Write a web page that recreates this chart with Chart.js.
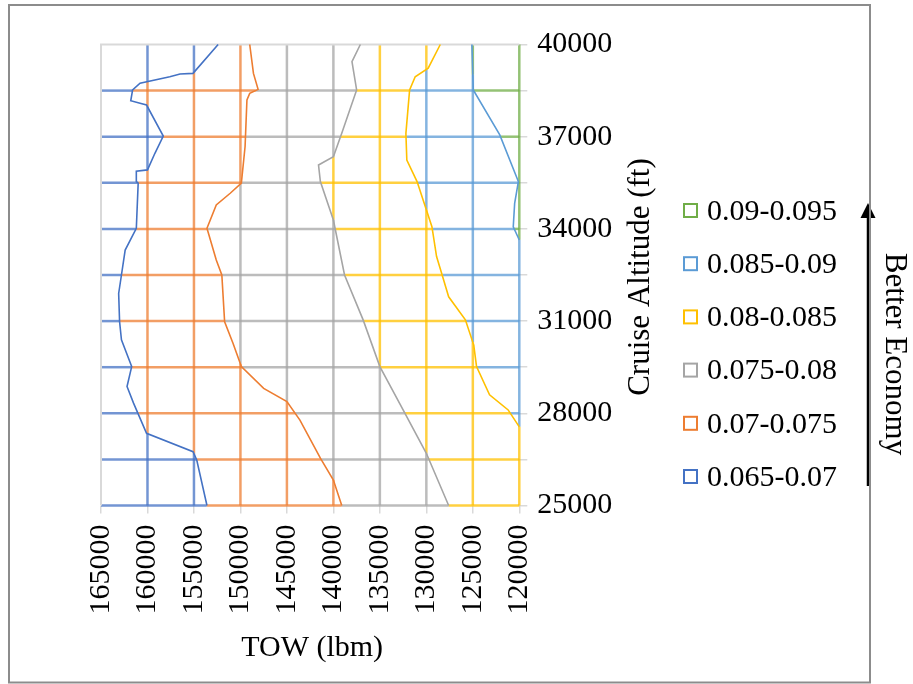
<!DOCTYPE html>
<html>
<head>
<meta charset="utf-8">
<script src="https://cdn.jsdelivr.net/npm/chart.js@4.4.1/dist/chart.umd.min.js"></script>
<style>
  html, body { margin: 0; padding: 0; background: #fff; }
  canvas { display: block; }
</style>
</head>
<body>
<canvas id="chart" width="913" height="684"></canvas>
<script>
// Economy bands, lowest first
const bandLabels = ['0.065-0.07', '0.07-0.075', '0.075-0.08', '0.08-0.085', '0.085-0.09', '0.09-0.095'];
const bandColors = ['#4472C4', '#ED7D31', '#A5A5A5', '#FFC000', '#5B9BD5', '#70AD47'];

// Axis ticks
const towTicks = [165000, 160000, 155000, 150000, 145000, 140000, 135000, 130000, 125000, 120000];
const altGrid = [25000, 26500, 28000, 29500, 31000, 32500, 34000, 35500, 37000, 38500, 40000];
const altLabels = [25000, 28000, 31000, 34000, 37000, 40000];

// Contour lines separating the bands: TOW (lbm) along cruise altitude (ft)
const alt070 = [40000, 39060, 39040, 38950, 38740, 38520, 38170, 38090, 38030, 37020, 36460, 35920, 35880, 35540, 35490, 34020, 33310, 32500, 31900, 30980, 30390, 29520, 28870, 28330, 27350, 26750, 26480, 25000];
const tow070 = [152400, 155100, 156500, 157600, 160800, 161600, 161800, 160800, 160100, 158300, 159200, 160000, 161200, 161200, 161000, 161200, 162400, 162800, 163100, 163000, 162800, 161700, 162200, 161500, 160100, 155100, 154700, 153600];

const alt075 = [40000, 39060, 38540, 38410, 38200, 36680, 35490, 35160, 34780, 34020, 32990, 32500, 30980, 30280, 29520, 28810, 28380, 27780, 26540, 25830, 25000];
const tow075 = [149000, 148600, 148100, 149000, 149300, 149500, 149900, 151100, 152600, 153600, 152600, 152000, 151700, 150800, 149900, 147500, 145000, 143600, 141400, 140000, 139100];

const alt080 = [40000, 39440, 38520, 37110, 36350, 36080, 35540, 34290, 32500, 31040, 29520, 28110, 26700, 25000];
const tow080 = [137100, 138000, 137500, 139100, 140000, 141600, 141400, 140000, 138800, 136800, 135000, 132500, 130000, 127600];

const alt085 = [40000, 39230, 38950, 38520, 37110, 36240, 35540, 34620, 34070, 33100, 32500, 31790, 31040, 30220, 29520, 28600, 28110, 27560];
const tow085 = [128500, 129800, 131200, 131800, 132200, 132100, 131000, 130000, 129400, 128900, 128300, 127600, 125800, 124900, 124600, 123200, 121200, 120000];

const alt090 = [40000, 38520, 37060, 35540, 34830, 34070, 33640];
const tow090 = [125100, 124950, 122100, 120100, 120500, 120650, 120000];

const contours = [
  { level: '0.07', tow: tow070, alt: alt070 },
  { level: '0.075', tow: tow075, alt: alt075 },
  { level: '0.08', tow: tow080, alt: alt080 },
  { level: '0.085', tow: tow085, alt: alt085 },
  { level: '0.09', tow: tow090, alt: alt090 }
];

// TOW of a contour at a given altitude; -Infinity where the contour has left the plot
function towOnContour(c, a) {
  const A = c.alt, T = c.tow;
  for (let i = 0; i < A.length - 1; i++) {
    const a0 = A[i], a1 = A[i + 1];
    const lo = Math.min(a0, a1), hi = Math.max(a0, a1);
    if (a >= lo - 1e-6 && a <= hi + 1e-6) {
      if (a1 === a0) return Math.max(T[i], T[i + 1]);
      const f = (a - a0) / (a1 - a0);
      return T[i] + f * (T[i + 1] - T[i]);
    }
  }
  return -Infinity;
}

// Band index of a (TOW, altitude) point: how many contours lie at heavier TOW
function bandAt(t, a) {
  let b = 0;
  for (const c of contours) if (towOnContour(c, a) > t) b++;
  return b;
}

const serif = "'Liberation Serif', 'Times New Roman', serif";
Chart.defaults.font.family = serif;
Chart.defaults.color = '#000';

// Wireframe mesh: every grid line coloured by the band it runs through
const meshPlugin = {
  id: 'mesh',
  beforeDatasetsDraw(chart) {
    const { ctx, chartArea: ca, scales } = chart;
    const xs = scales.x, ys = scales.y;
    const step = 0.5;
    ctx.save();
    ctx.lineWidth = 2.5;
    ctx.globalAlpha = 0.75;
    ctx.lineCap = 'butt';
    const seg = (x0, y0, x1, y1, b) => {
      ctx.strokeStyle = bandColors[b];
      ctx.beginPath();
      ctx.moveTo(x0, y0);
      ctx.lineTo(x1, y1);
      ctx.stroke();
    };
    const topAlt = altGrid[altGrid.length - 1];
    altGrid.forEach(a => {
      if (a === topAlt) return;
      const py = ys.getPixelForValue(a);
      let start = ca.left;
      let cur = bandAt(xs.getValueForPixel(ca.left), a);
      for (let px = ca.left + step; px <= ca.right + 1e-6; px += step) {
        const b = bandAt(xs.getValueForPixel(px), a);
        if (b !== cur) {
          const m = px - step / 2;
          seg(start, py, m, py, cur);
          start = m; cur = b;
        }
      }
      seg(start, py, ca.right, py, cur);
    });
    const leftTow = towTicks[0];
    towTicks.forEach(t => {
      if (t === leftTow) return;
      const px = xs.getPixelForValue(t);
      let start = ca.top;
      let cur = bandAt(t, ys.getValueForPixel(ca.top));
      for (let py = ca.top + step; py <= ca.bottom + 1e-6; py += step) {
        const b = bandAt(t, ys.getValueForPixel(py));
        if (b !== cur) {
          const m = py - step / 2;
          seg(px, start, px, m, cur);
          start = m; cur = b;
        }
      }
      seg(px, start, px, ca.bottom, cur);
    });
    // top and left edges
    ctx.globalAlpha = 1;
    ctx.strokeStyle = '#D9D9D9';
    ctx.lineWidth = 2;
    ctx.beginPath();
    ctx.moveTo(ca.left, ca.bottom);
    ctx.lineTo(ca.left, ca.top);
    ctx.lineTo(ca.right, ca.top);
    ctx.stroke();
    ctx.restore();
  }
};

// Titles, band legend, economy arrow and outer frame
const decorPlugin = {
  id: 'decor',
  beforeDraw(chart) {
    const ctx = chart.ctx;
    ctx.save();
    ctx.fillStyle = '#fff';
    ctx.fillRect(0, 0, chart.width, chart.height);
    ctx.restore();
  },
  afterDraw(chart) {
    const ctx = chart.ctx;
    const ca = chart.chartArea;
    ctx.save();
    ctx.fillStyle = '#000';
    ctx.textBaseline = 'middle';
    ctx.textAlign = 'center';

    ctx.font = '30px ' + serif;
    ctx.fillText('TOW (lbm)', (ca.left + ca.right) / 2 + 2, 648);

    ctx.save();
    ctx.font = '31px ' + serif;
    ctx.translate(641, 277);
    ctx.rotate(-Math.PI / 2);
    ctx.fillText('Cruise Altitude (ft)', 0, 0);
    ctx.restore();

    // legend, highest band on top
    ctx.textAlign = 'left';
    ctx.font = '30px ' + serif;
    for (let r = 0; r < bandLabels.length; r++) {
      const i = bandLabels.length - 1 - r;
      const cy = 211 + r * 53.2;
      ctx.strokeStyle = bandColors[i];
      ctx.lineWidth = 2;
      ctx.strokeRect(684, cy - 7, 13, 13);
      ctx.fillStyle = '#000';
      ctx.fillText(bandLabels[i], 707, cy + 1);
    }

    // arrow
    ctx.strokeStyle = '#000';
    ctx.fillStyle = '#000';
    ctx.lineWidth = 2.5;
    ctx.beginPath();
    ctx.moveTo(868, 486);
    ctx.lineTo(868, 214);
    ctx.stroke();
    ctx.beginPath();
    ctx.moveTo(868, 203);
    ctx.lineTo(860.5, 218);
    ctx.lineTo(875.5, 218);
    ctx.closePath();
    ctx.fill();

    ctx.save();
    ctx.textAlign = 'center';
    ctx.font = '31px ' + serif;
    ctx.translate(894, 354);
    ctx.rotate(Math.PI / 2);
    ctx.fillText('Better Economy', 0, 0);
    ctx.restore();

    // frame
    ctx.strokeStyle = '#8C8C8C';
    ctx.lineWidth = 2;
    ctx.strokeRect(9, 5, 861, 677.5);
    ctx.restore();
  }
};

new Chart(document.getElementById('chart'), {
  type: 'scatter',
  data: {
    datasets: contours.map((c, i) => ({
      label: 'Contour ' + c.level,
      data: c.tow.map((t, j) => ({ x: t, y: c.alt[j] })),
      showLine: true,
      borderColor: bandColors[i],
      borderWidth: 1.6,
      pointRadius: 0,
      fill: false,
      tension: 0,
      clip: 1
    }))
  },
  options: {
    responsive: false,
    animation: false,
    devicePixelRatio: 1,
    layout: { padding: { left: 101, top: 44.5, right: 0, bottom: 0 } },
    plugins: { legend: { display: false }, tooltip: { enabled: false } },
    events: [],
    scales: {
      x: {
        type: 'linear',
        reverse: true,
        min: towTicks[towTicks.length - 1],
        max: towTicks[0],
        afterBuildTicks: s => { s.ticks = towTicks.map(v => ({ value: v })); },
        afterFit: s => { s.height = 178.5; },
        ticks: {
          autoSkip: false,
          minRotation: 90,
          maxRotation: 90,
          padding: 11,
          color: '#000',
          font: { size: 30, family: serif },
          callback: v => String(v)
        },
        grid: { drawOnChartArea: false, drawTicks: true, tickLength: 8, color: '#D9D9D9', lineWidth: 1.5 },
        border: { display: false }
      },
      y: {
        type: 'linear',
        position: 'right',
        min: altGrid[0],
        max: altGrid[altGrid.length - 1],
        afterBuildTicks: s => { s.ticks = altGrid.map(v => ({ value: v })); },
        afterFit: s => { s.width = 393.7; },
        ticks: {
          autoSkip: false,
          padding: 10,
          color: '#000',
          font: { size: 30, family: serif },
          callback: v => (altLabels.includes(v) ? String(v) : '')
        },
        grid: { drawOnChartArea: false, drawTicks: true, tickLength: 8, color: '#D9D9D9', lineWidth: 1.5 },
        border: { display: false }
      }
    }
  },
  plugins: [meshPlugin, decorPlugin]
});
</script>
</body>
</html>
